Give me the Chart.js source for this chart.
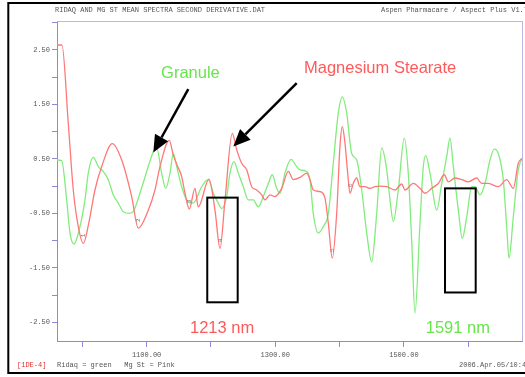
<!DOCTYPE html>
<html>
<head>
<meta charset="utf-8">
<script src="https://cdn.jsdelivr.net/npm/chart.js@4.4.1/dist/chart.umd.min.js"></script>
<style>
  html, body { margin: 0; padding: 0; background: #fff; overflow: hidden; }
  #c { display: block; }
</style>
</head>
<body>
<canvas id="c" width="525" height="377"></canvas>
<script>
// Second-derivative NIR spectra (wavelength in nm, derivative in units of 1E-4)
const mgStNm = [960.7, 968.4, 978.2, 986.0, 993.3, 1001.6, 1010.4, 1019.7, 1030.2, 1046.6,
  1061.3, 1076.8, 1087.1, 1102.6, 1113.0, 1120.8, 1135.3, 1141.5, 1148.3, 1154.5,
  1159.7, 1166.4, 1175.2, 1180.3, 1197.0, 1206.3, 1214.1, 1221.9, 1233.2, 1240.0,
  1247.8, 1255.6, 1263.4, 1271.1, 1278.9, 1284.0, 1291.8, 1299.6, 1310.0, 1320.3,
  1328.0, 1338.5, 1348.9, 1354.0, 1359.1, 1369.6, 1377.3, 1382.5, 1388.7, 1395.5,
  1400.6, 1404.2, 1408.4, 1412.6, 1416.2, 1421.3, 1426.6, 1431.7, 1439.5, 1447.3,
  1455.1, 1462.8, 1473.3, 1486.2, 1496.6, 1501.7, 1514.6, 1525.0, 1532.8, 1543.2,
  1553.5, 1562.8, 1569.0, 1579.4, 1589.9, 1600.1, 1613.2, 1620.9, 1631.2, 1646.8,
  1659.8, 1670.1, 1677.8, 1683.6];
const mgStVal = [2.59, 2.59, 1.16, -0.07, -0.71, -1.05, -0.66, -0.07, 0.36, 0.78,
  0.48, -0.19, -0.77, -0.44, -0.07, 0.36, 0.84, 0.57, 0.36, 0.18,
  -0.13, -0.42, -0.04, -0.38, 0.13, -0.44, -1.14, -0.25, 0.97, 0.67,
  0.42, 0.30, -0.01, -0.07, -0.16, -0.25, -0.16, -0.19, -0.04, 0.27,
  0.12, 0.16, 0.24, 0.12, -0.07, -0.10, -0.22, -0.68, -1.32, -0.50,
  0.73, 1.09, 0.79, 0.24, -0.13, 0.05, 0.15, -0.01, -0.01, -0.04,
  -0.01, 0.00, -0.01, -0.07, 0.04, -0.07, 0.05, -0.04, -0.13, -0.04,
  0.05, 0.21, 0.08, 0.15, 0.12, 0.08, 0.15, 0.05, 0.05, -0.01,
  0.12, -0.04, 0.42, 0.51];

const ridaqNm = [960.7, 968.0, 975.7, 980.9, 987.1, 996.4, 1004.2, 1009.3, 1017.1, 1024.9,
  1032.6, 1040.4, 1048.2, 1056.0, 1063.7, 1074.2, 1080.0, 1092.3, 1102.6, 1110.4,
  1116.1, 1123.4, 1129.7, 1136.4, 1141.5, 1146.8, 1154.5, 1162.3, 1170.1, 1175.2,
  1185.6, 1195.9, 1203.7, 1211.4, 1216.6, 1224.5, 1229.6, 1235.8, 1242.5, 1250.3,
  1258.1, 1265.9, 1273.6, 1281.4, 1289.2, 1295.4, 1302.2, 1307.4, 1315.1, 1324.5,
  1333.3, 1338.5, 1348.9, 1354.0, 1359.1, 1366.9, 1374.7, 1382.5, 1390.2, 1398.0,
  1404.2, 1411.1, 1418.8, 1426.6, 1434.4, 1442.2, 1449.9, 1457.7, 1465.5, 1473.3,
  1478.4, 1483.5, 1491.3, 1500.6, 1506.8, 1512.1, 1517.2, 1525.0, 1530.2, 1533.9,
  1540.6, 1551.0, 1558.8, 1566.5, 1571.7, 1576.8, 1584.6, 1590.8, 1597.7, 1605.4,
  1610.5, 1618.3, 1626.1, 1633.8, 1640.5, 1646.8, 1654.5, 1659.8, 1663.4, 1670.1,
  1677.8, 1683.6];
const ridaqVal = [0.48, 0.47, -0.25, -0.86, -1.06, -0.74, -0.25, 0.24, 0.53, 0.36,
  0.27, 0.12, -0.16, -0.31, -0.47, -0.50, -0.45, -0.03, 0.36, 0.63,
  0.68, 0.24, -0.04, 0.24, 0.60, 0.36, -0.01, -0.25, -0.31, -0.28,
  -0.01, 0.12, -0.13, -0.31, -0.41, -0.19, 0.24, 0.45, 0.24, -0.01,
  -0.25, -0.25, -0.38, -0.19, 0.05, 0.21, -0.04, -0.13, 0.24, 0.49,
  0.36, 0.30, 0.27, 0.12, -0.50, -0.86, -0.74, -0.50, 0.42, 1.34,
  1.64, 1.34, 0.60, 0.48, -0.07, -0.86, -1.39, -0.50, 0.70, 0.30,
  -0.25, -0.65, -0.07, 0.88, 0.24, -0.99, -2.33, -0.68, 0.36, 0.56,
  0.24, -0.44, 0.05, 0.54, 0.88, 0.36, -0.44, -0.96, -0.56, -0.01,
  -0.01, -0.16, 0.05, 0.48, 0.68, 0.60, 0.12, -0.74, -1.32, -0.56,
  0.30, 0.51];

// Axis ticks
const xTicks = [1000, 1100, 1200, 1300, 1400, 1500, 1600];
const xLabelled = [1100, 1300, 1500];
const yTicks = [-2.5, -2.0, -1.5, -1.0, -0.5, 0.0, 0.5, 1.0, 1.5, 2.0, 2.5, 3.0];
const yLabelled = [-2.5, -1.5, -0.5, 0.5, 1.5, 2.5];

// Numbered minima on the magnesium stearate trace
const peakNm = [1001.6, 1087.1, 1166.4, 1214.1, 1388.7, 1416.2];
const peakNames = ['1', '2', '3', '4', '5', '6'];

// Texts
const headerTitle = 'RIDAQ AND MG ST MEAN SPECTRA SECOND DERIVATIVE.DAT';
const headerSource = 'Aspen Pharmacare / Aspect Plus V1.76';
const scaleNote = '[1DE-4]';
const legendNote = 'Ridaq = green   Mg St = Pink';
const stamp = '2006.Apr.05/10:4';

const GREEN_LINE = '#82ec7c';
const RED_LINE = '#ff7878';
const GREEN_TEXT = '#66e64c';
const RED_TEXT = '#ff5a5a';
const AXIS = '#8c8cd2';
const MONO = '"Liberation Mono", "DejaVu Sans Mono", monospace';

const toPoints = (xs, ys) => xs.map((x, i) => ({ x, y: ys[i] }));

function arrow(ctx, x1, y1, x2, y2) {
  const ang = Math.atan2(y2 - y1, x2 - x1);
  const headLen = 17, halfW = 7.5;
  const bx = x2 - headLen * Math.cos(ang), by = y2 - headLen * Math.sin(ang);
  ctx.beginPath();
  ctx.moveTo(x1, y1);
  ctx.lineTo(bx, by);
  ctx.stroke();
  ctx.beginPath();
  ctx.moveTo(x2, y2);
  ctx.lineTo(bx + halfW * Math.sin(ang), by - halfW * Math.cos(ang));
  ctx.lineTo(bx - halfW * Math.sin(ang), by + halfW * Math.cos(ang));
  ctx.closePath();
  ctx.fill();
}

const overlay = {
  id: 'overlay',
  afterDatasetsDraw(chart) {
    const ctx = chart.ctx;
    const xs = chart.scales.x, ys = chart.scales.y;
    const X = v => xs.getPixelForValue(v), Y = v => ys.getPixelForValue(v);
    ctx.save();

    // numbered minima
    ctx.fillStyle = '#777';
    ctx.font = '6px ' + MONO;
    ctx.textAlign = 'center';
    ctx.textBaseline = 'middle';
    peakNm.forEach((nm, i) => {
      const v = mgStVal[mgStNm.indexOf(nm)];
      ctx.save();
      ctx.translate(X(nm), Y(v) - 8);
      ctx.rotate(-Math.PI / 2);
      ctx.fillText(peakNames[i], 0, 0);
      ctx.restore();
    });

    // boxes around the marker bands
    ctx.strokeStyle = '#000';
    ctx.lineWidth = 2;
    ctx.strokeRect(X(1194.3), Y(-0.21), X(1241.6) - X(1194.3), Y(-2.13) - Y(-0.21));
    ctx.strokeRect(X(1563.9), Y(-0.04), X(1611.6) - X(1563.9), Y(-1.95) - Y(-0.04));

    // arrows
    ctx.fillStyle = '#000';
    ctx.lineWidth = 2.5;
    arrow(ctx, X(1164.8), Y(1.78), X(1110.4), Y(0.62));
    arrow(ctx, X(1333.3), Y(1.89), X(1234.8), Y(0.73));

    // labels
    ctx.font = '16.5px "Liberation Sans", Arial, sans-serif';
    ctx.textAlign = 'left';
    ctx.textBaseline = 'alphabetic';
    ctx.fillStyle = GREEN_TEXT;
    ctx.fillText('Granule', X(1122.5), Y(1.98));
    ctx.fillText('1591 nm', X(1533.9), Y(-2.69));
    ctx.fillStyle = RED_TEXT;
    ctx.fillText('Magnesium Stearate', X(1344.7), Y(2.07));
    ctx.fillText('1213 nm', X(1167.4), Y(-2.69));
    ctx.restore();
  },
  afterDraw(chart) {
    const ctx = chart.ctx;
    const { left, top, right, bottom } = chart.chartArea;
    ctx.save();
    // plot box (top and right sides)
    ctx.strokeStyle = '#b8b8e0';
    ctx.lineWidth = 1;
    ctx.beginPath();
    ctx.moveTo(left, top + 0.5);
    ctx.lineTo(right, top + 0.5);
    ctx.moveTo(right + 0.5, top);
    ctx.lineTo(right + 0.5, bottom);
    ctx.stroke();

    // outer frame
    ctx.strokeStyle = '#000';
    ctx.lineWidth = 2;
    ctx.strokeRect(8.3, 3, 540, 370);

    // header and footer
    ctx.font = '7px ' + MONO;
    ctx.textBaseline = 'middle';
    ctx.textAlign = 'left';
    ctx.fillStyle = '#555';
    ctx.fillText(headerTitle, 55, 10.5);
    ctx.fillText(headerSource, 381, 10.5);
    ctx.fillText(legendNote, 57, 365);
    ctx.fillText(stamp, 459, 365);
    ctx.fillStyle = '#e03030';
    ctx.fillText(scaleNote, 17, 365);
    ctx.restore();
  }
};

new Chart(document.getElementById('c'), {
  type: 'line',
  data: {
    datasets: [
      {
        label: 'Mg St',
        data: toPoints(mgStNm, mgStVal),
        borderColor: RED_LINE,
        borderWidth: 1.3,
        pointRadius: 0,
        cubicInterpolationMode: 'monotone',
        fill: false
      },
      {
        label: 'Ridaq',
        data: toPoints(ridaqNm, ridaqVal),
        borderColor: GREEN_LINE,
        borderWidth: 1.3,
        pointRadius: 0,
        cubicInterpolationMode: 'monotone',
        fill: false
      }
    ]
  },
  options: {
    responsive: false,
    animation: false,
    devicePixelRatio: 1,
    layout: { padding: { left: 0, right: 3, top: 21, bottom: 0 } },
    plugins: { legend: { display: false }, tooltip: { enabled: false } },
    scales: {
      x: {
        type: 'linear',
        min: 960.7,
        max: 1683.6,
        afterBuildTicks: s => { s.ticks = xTicks.map(v => ({ value: v })); },
        afterFit: s => { s.height = 36; },
        ticks: {
          autoSkip: false,
          maxRotation: 0,
          padding: 4,
          color: '#555',
          font: { family: MONO, size: 7 },
          callback: v => xLabelled.includes(v) ? v.toFixed(2) : ''
        },
        grid: { drawOnChartArea: false, drawTicks: true, tickLength: 6, color: AXIS },
        border: { color: AXIS, width: 1 }
      },
      y: {
        type: 'linear',
        min: -2.84,
        max: 3.03,
        afterBuildTicks: s => { s.ticks = yTicks.map(v => ({ value: v })); },
        afterFit: s => { s.width = 57; },
        ticks: {
          autoSkip: false,
          padding: 2,
          color: '#555',
          font: { family: MONO, size: 7 },
          callback: v => yLabelled.some(t => Math.abs(t - v) < 1e-9) ? v.toFixed(2) : ''
        },
        grid: { drawOnChartArea: false, drawTicks: true, tickLength: 5, color: AXIS },
        border: { color: AXIS, width: 1 }
      }
    }
  },
  plugins: [overlay]
});
</script>
</body>
</html>
